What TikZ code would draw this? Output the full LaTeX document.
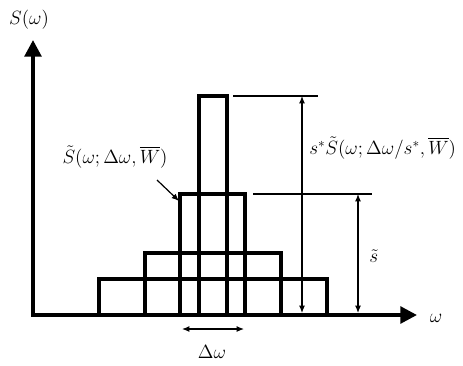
\documentclass[tikz,border=0pt]{standalone}
\usepackage{amsmath,amssymb}
\usepackage{xcolor}
\usepackage{tikz}
\usetikzlibrary{arrows.meta,positioning}

\begin{document}
\begin{tikzpicture}[
  x=0.75pt,
  y=-0.75pt,
  font=\fontsize{14}{16}\selectfont,
  axis/.style={
    line width=2.8pt,
    -{Triangle[length=12.5pt,width=12.5pt]}
  },
  bar/.style={
    line width=2.4pt
  },
  dim/.style={
    line width=0.9pt
  },
  arr/.style={
    dim,
    -{Latex[length=5.5pt,width=4.5pt]}
  },
  dimarr/.style={
    dim,
    {Latex[length=5.5pt,width=4.5pt]}-{Latex[length=5.5pt,width=4.5pt]}
  }
]
\useasboundingbox (0,0) rectangle (463,365);
\coordinate (origin) at (33,315);
\coordinate (ytip) at (33,40);
\coordinate (xtip) at (417,315);
% stacked blocks
\draw[bar] (99,315) rectangle (327,279);
\draw[bar] (145,315) rectangle (281,253);
\draw[bar] (180,315) rectangle (245,194);
\draw[bar] (199,315) rectangle (227,96);
% axes
\draw[axis] (origin) -- (ytip);
\draw[axis] ([xshift=-1.4pt]origin) -- (xtip);
\node (ylabel) at (29,20) {$S(\omega)$};
\node (xlabel) at (436,318) {$\omega$};
% height markers
\coordinate (topl) at (233,96);
\coordinate (topr) at (318,96);
\coordinate (midl) at (253,194);
\coordinate (midr) at (372,194);
\draw[dim] (topl) -- (topr);
\draw[dim] (midl) -- (midr);
\coordinate (tophi) at (302,96);
\coordinate (toplo) at (302,313);
\coordinate (midhi) at (358,194);
\coordinate (midlo) at (358,313);
\draw[dimarr] (tophi) -- (toplo);
\draw[dimarr] (midhi) -- (midlo);
\node[anchor=west, inner sep=0pt] (peak) at (309,148)
{$s^{*}\tilde{S}(\omega;\Delta\omega/s^{*},\overline{W})$};
\node[anchor=west, inner sep=0pt] (stilde) at (369,256) {$\tilde{s}$};
% block label
\node (block) at (115,157) {$\tilde{S}(\omega;\Delta\omega,\overline{W})$};
\coordinate (ptr) at (157,180);
\coordinate (corner) at (179,201);
\draw[arr] (ptr) -- (corner);
% width marker
\coordinate (dwl) at (182,329);
\coordinate (dwr) at (244,329);
\draw[dimarr] (dwl) -- (dwr);
\node (dw) at (212,352) {$\Delta\omega$};
\end{tikzpicture}
\end{document}
